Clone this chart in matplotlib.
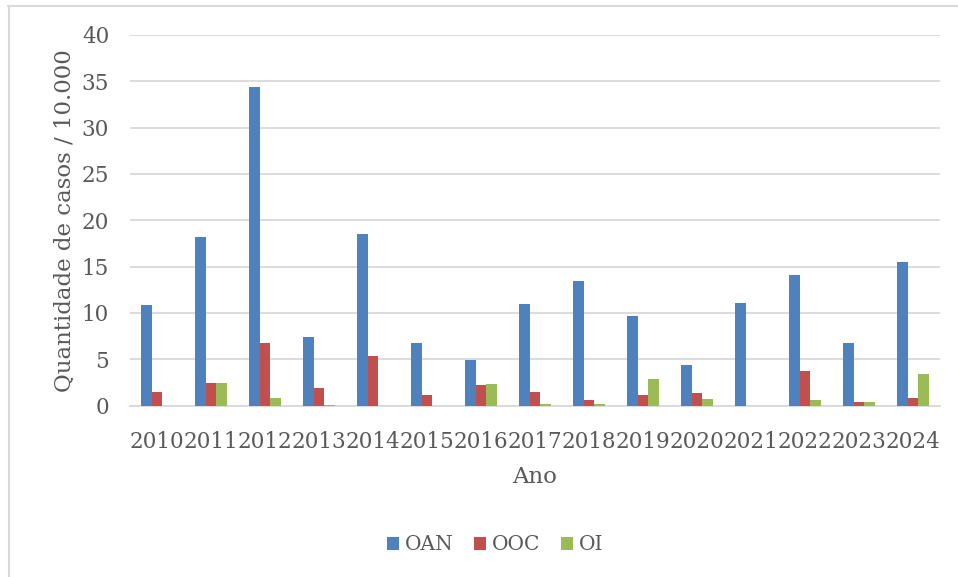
import numpy as np
import matplotlib.pyplot as plt
from matplotlib.lines import Line2D

anos = ['2010', '2011', '2012', '2013', '2014', '2015', '2016', '2017',
        '2018', '2019', '2020', '2021', '2022', '2023', '2024']
oan = [10.8, 18.2, 34.4, 7.4, 18.5, 6.7, 4.9, 11.0, 13.4, 9.7, 4.35, 11.1, 14.1, 6.75, 15.5]
ooc = [1.45, 2.45, 6.7, 1.85, 5.3, 1.1, 2.2, 1.5, 0.6, 1.1, 1.4, 0.0, 3.75, 0.4, 0.8]
oi = [0.0, 2.45, 0.8, 0.1, 0.0, 0.0, 2.3, 0.2, 0.2, 2.85, 0.7, 0.0, 0.6, 0.4, 3.4]

cores = ['#4F81BD', '#C0504D', '#9BBB59']
texto = '#595959'

plt.rcParams['font.family'] = ['DejaVu Serif']

fig = plt.figure(figsize=(9.58, 5.77), dpi=100)
ax = fig.add_axes([130 / 958, 1 - 405.5 / 577, 810 / 958, 370.5 / 577])

x = np.arange(len(anos))
w = 0.195
ax.bar(x - w, oan, w, color=cores[0], label='OAN', zorder=3)
ax.bar(x, ooc, w, color=cores[1], label='OOC', zorder=3)
ax.bar(x + w, oi, w, color=cores[2], label='OI', zorder=3)

ax.set_xlim(-0.5, len(anos) - 0.5)
ax.set_ylim(0, 40)
ax.set_yticks(range(0, 41, 5))
ax.yaxis.grid(True, color='#D9D9D9', linewidth=1.3, zorder=0)
ax.set_xticks(x)
ax.set_xticklabels(anos)
ax.tick_params(axis='both', length=0, labelsize=15.5, colors=texto)
ax.tick_params(axis='y', pad=15)
ax.tick_params(axis='x', pad=18)
for s in ['top', 'right', 'left']:
    ax.spines[s].set_visible(False)
ax.spines['bottom'].set_color('#D9D9D9')
ax.spines['bottom'].set_linewidth(1.3)

ax.set_ylabel('Quantidade de casos / 10.000', fontsize=16.5, color=texto, labelpad=4)
ax.set_xlabel('Ano', fontsize=16.5, color=texto, labelpad=10)

ax.legend(loc='center', bbox_to_anchor=(495 / 958, 1 - 545 / 577),
          bbox_transform=fig.transFigure, ncol=3, frameon=False,
          fontsize=14.5, labelcolor=texto, handlelength=0.6, handleheight=0.6,
          handletextpad=0.3, columnspacing=1.0)

# moldura do grafico
fig.add_artist(Line2D([8 / 958, 1], [1 - 6 / 577] * 2, color='#D9D9D9', lw=1.5))
fig.add_artist(Line2D([8.5 / 958] * 2, [0, 1 - 6 / 577], color='#D9D9D9', lw=1.5))

fig.savefig('out.png', dpi=100)
